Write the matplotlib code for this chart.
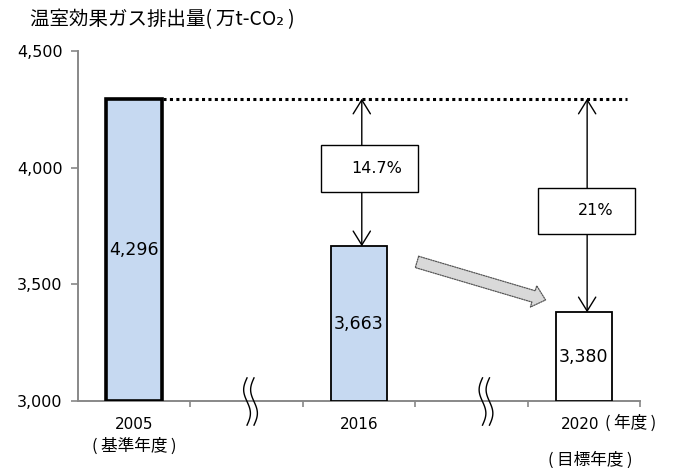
import matplotlib
matplotlib.use("Agg")
import matplotlib.pyplot as plt
import numpy as np
from matplotlib.patches import Rectangle
from matplotlib.lines import Line2D
import matplotlib.transforms as mtrans

plt.rcParams['font.family'] = ['Noto Sans CJK JP', 'DejaVu Sans']

# ---- data ----
years = ["2005", "2016", "2020"]
sublabels = ["(\u2009基準年度\u2009)", "", "(\u2009目標年度\u2009)"]
values = [4296, 3663, 3380]
value_labels = ["4,296", "3,663", "3,380"]
reductions = ["14.7%", "21%"]
yticks = [3000, 3500, 4000, 4500]
ytick_labels = ["3,000", "3,500", "4,000", "4,500"]
title = "温室効果ガス排出量(\u2009万t-CO₂\u2009)"
unit_label = "(\u2009年度\u2009)"

positions = [0.5, 2.5, 4.5]
fill_colors = ["#c6d9f1", "#c6d9f1", "#ffffff"]
edge_widths = [2.6, 1.3, 1.3]

fig = plt.figure(figsize=(6.77, 4.68), dpi=100)
ax = fig.add_axes([0.1152, 0.1432, 0.8301, 0.7478])

bars = ax.bar(positions, [v - 3000 for v in values], bottom=3000, width=0.5,
              color=fill_colors, edgecolor="black", zorder=3)
for b, lw in zip(bars, edge_widths):
    b.set_linewidth(lw)

for p, v, lab in zip(positions, values, value_labels):
    ax.text(p, (3000 + v) / 2, lab, ha="center", va="center", fontsize=12.5,
            family=['DejaVu Sans'], zorder=5)

ax.set_xlim(0, 5)
ax.set_ylim(3000, 4500)
ax.set_yticks(yticks)
ax.set_yticklabels(ytick_labels, fontsize=11.5, family=['DejaVu Sans'])
ax.set_xticks([1, 2, 3, 4, 5])
ax.set_xticklabels([])
ax.tick_params(axis="x", direction="out", length=4, color="#888888", width=1.2)
ax.tick_params(axis="y", direction="out", length=5, color="#888888", width=1.2, pad=6)
for s in ["top", "right"]:
    ax.spines[s].set_visible(False)
ax.spines["left"].set_color("#888888")
ax.spines["bottom"].set_color("#888888")
ax.spines["left"].set_linewidth(1.4)
ax.spines["bottom"].set_linewidth(1.4)

# dotted reference line at 2005 level
ax.plot([positions[0] + 0.256, 4.885], [values[0], values[0]], color="black",
        lw=2.2, linestyle=(0, (1, 1.1)), zorder=4, solid_capstyle="butt",
        dash_capstyle="butt")

# reduction arrows with boxes
arrow_x = [2.525, 4.53]
box_specs = [(2.162, 3896, 0.863, 201), (4.093, 3716, 0.863, 197)]
text_x = [2.66, 4.61]
for ax_x, target, (bx, by, bw, bh), tx, lab in zip(arrow_x, values[1:], box_specs, text_x, reductions):
    ax.annotate("", xy=(ax_x, target), xytext=(ax_x, values[0]),
                arrowprops=dict(arrowstyle="<->,head_length=1.0,head_width=0.62",
                                color="black", lw=1.0, shrinkA=0, shrinkB=0,
                                mutation_scale=10),
                zorder=4)
    ax.add_patch(Rectangle((bx, by), bw, bh, facecolor="white", edgecolor="black",
                           lw=1.0, zorder=6))
    ax.text(tx, by + bh / 2, lab, ha="center", va="center", fontsize=11.5,
            family=['DejaVu Sans'], zorder=7)

# grey trend arrow
ax.annotate("", xy=(4.16, 3433), xytext=(3.016, 3596),
            arrowprops=dict(arrowstyle="simple,head_length=0.9,head_width=1.6,tail_width=0.85",
                            facecolor="#d9d9d9", edgecolor="#555555", lw=0.9,
                            linestyle=(0, (1, 1)), shrinkA=0, shrinkB=0,
                            mutation_scale=10),
            zorder=4)

# axis break marks
trans = mtrans.blended_transform_factory(ax.transData, ax.transAxes)
t = np.linspace(0, 1, 60)
for bxm in [1.535, 3.63]:
    yy = 0.066 - 0.135 * t
    for off in [-0.031, 0.031]:
        xx = bxm + off - 0.03 * np.sin(2 * np.pi * t)
        ax.add_artist(Line2D(xx, yy, transform=trans, color="black", lw=1.0,
                             clip_on=False, zorder=8))

# x category labels
label_x = [0.5, 2.5, 4.47]
sub_x = [0.5, 2.5, 4.56]
sub_y = [-0.105, -0.105, -0.145]
for p, sp, yv, y, sub in zip(label_x, sub_x, sub_y, years, sublabels):
    ax.text(p, -0.045, y, transform=trans, ha="center", va="top", fontsize=11,
            family=['DejaVu Sans'])
    if sub:
        ax.text(sp, yv, sub, transform=trans, ha="center", va="top", fontsize=12)
ax.text(4.69, -0.04, unit_label, transform=trans, ha="left", va="top", fontsize=12)

fig.text(0.044, 0.957, title, ha="left", va="center", fontsize=14)

fig.savefig("out.png", dpi=100)
